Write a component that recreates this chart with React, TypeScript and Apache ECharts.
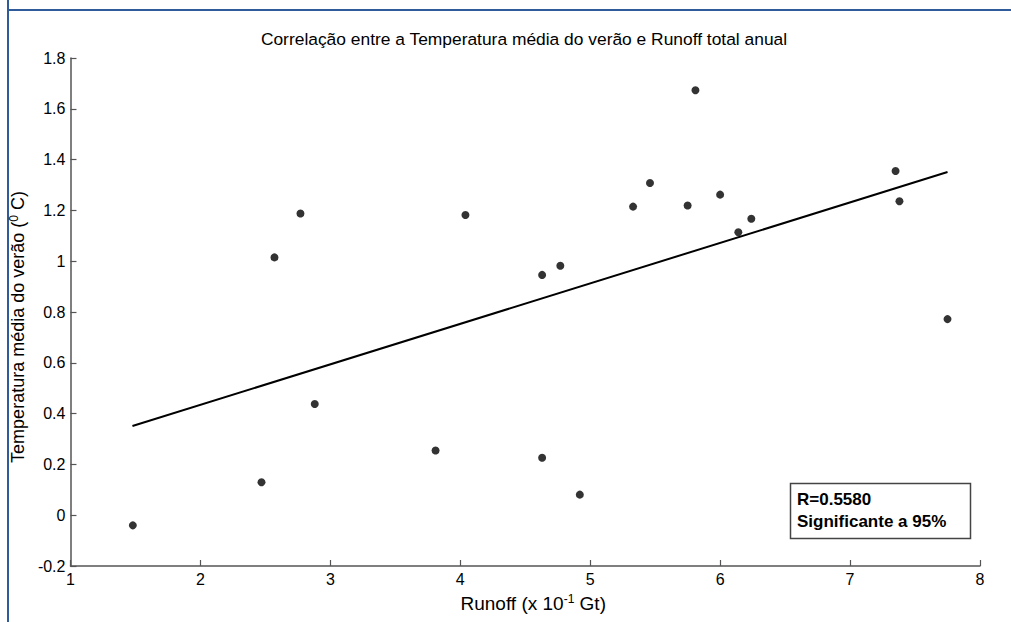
import React, { useEffect, useRef } from "react";
import * as echarts from "echarts";

const runoff = [1.48, 2.47, 2.57, 2.77, 2.88, 3.81, 4.04, 4.63, 4.63, 4.77, 4.92, 5.33, 5.46, 5.75, 5.81, 6.0, 6.14, 6.24, 7.35, 7.38, 7.75];
const temperature = [-0.04, 0.13, 1.015, 1.188, 0.438, 0.255, 1.182, 0.946, 0.226, 0.982, 0.081, 1.215, 1.308, 1.219, 1.673, 1.262, 1.114, 1.167, 1.355, 1.236, 0.772];
const fitX = [1.477, 7.75];
const fitY = [0.351, 1.351];
const xTicks = [1, 2, 3, 4, 5, 6, 7, 8];
const yTicks = [-0.2, 0, 0.2, 0.4, 0.6, 0.8, 1, 1.2, 1.4, 1.6, 1.8];
const titleText = "Correlação entre a Temperatura média do verão e Runoff total anual";
const statLines = ["R=0.5580", "Significante a 95%"];

export default function App() {
  const ref = useRef<HTMLDivElement>(null);
  useEffect(() => {
    if (!ref.current) return;
    const chart = echarts.init(ref.current, null, { renderer: "svg" });
    const axisColor = "#555";
    const font = "Arial, 'Liberation Sans', Helvetica, sans-serif";
    chart.setOption({
      animation: false,
      backgroundColor: "#fff",
      title: {
        text: titleText,
        left: 519,
        top: 25,
        textAlign: "center",
        textStyle: { fontFamily: font, fontSize: 17.4, fontWeight: "normal", color: "#000" },
      },
      grid: { left: 70, right: 31, top: 58, bottom: 56, containLabel: false },
      xAxis: {
        type: "value",
        min: xTicks[0],
        max: xTicks[xTicks.length - 1],
        interval: 1,
        splitLine: { show: false },
        axisLine: { onZero: false, lineStyle: { color: axisColor, width: 1.5 } },
        axisTick: { inside: true, length: 6, lineStyle: { color: axisColor, width: 1.2 } },
        axisLabel: { color: "#000", fontFamily: font, fontSize: 16, margin: 5 },
        name: "Runoff (x 10{sup|-1} Gt)",
        nameLocation: "middle",
        nameGap: 27,
        nameTextStyle: {
          fontFamily: font,
          fontSize: 19,
          color: "#000",
          padding: [0, 0, 0, 16],
          rich: { sup: { fontFamily: font, fontSize: 12, color: "#000", verticalAlign: "top", padding: [0, 0, 9, 0] } },
        },
      },
      yAxis: {
        type: "value",
        min: yTicks[0],
        max: yTicks[yTicks.length - 1],
        interval: 0.2,
        splitLine: { show: false },
        axisLine: { show: true, onZero: false, lineStyle: { color: axisColor, width: 1.5 } },
        axisTick: { show: true, inside: true, length: 6, lineStyle: { color: axisColor, width: 1.2 } },
        axisLabel: {
          color: "#000",
          fontFamily: font,
          fontSize: 16,
          margin: 5,
          formatter: (v: number) => String(+v.toFixed(1)),
        },
        name: "Temperatura média do verão ({sup|0} C)",
        nameLocation: "middle",
        nameGap: 40,
        nameTextStyle: {
          fontFamily: font,
          fontSize: 18,
          color: "#000",
          padding: [0, 30, 0, 0],
          rich: { sup: { fontFamily: font, fontSize: 12, color: "#000", verticalAlign: "top", padding: [0, 0, 8, 0] } },
        },
      },
      series: [
        {
          type: "line",
          data: fitX.map((x, i) => [x, fitY[i]]),
          showSymbol: false,
          symbol: "none",
          lineStyle: { color: "#000", width: 2 },
          z: 2,
        },
        {
          type: "scatter",
          data: runoff.map((x, i) => [x, temperature[i]]),
          symbol: "circle",
          symbolSize: 8,
          itemStyle: { color: "#000" },
          z: 3,
        },
      ],
      graphic: [
        { type: "line", shape: { x1: 8, y1: 0, x2: 8, y2: 622 }, style: { stroke: "#2f5b9a", lineWidth: 2 } },
        { type: "line", shape: { x1: 8, y1: 10, x2: 1011, y2: 10 }, style: { stroke: "#2f5b9a", lineWidth: 2 } },
        { type: "rect", shape: { x: 790.5, y: 483.5, width: 180, height: 55 }, style: { fill: "#fff", stroke: "#444", lineWidth: 1.5 } },
        {
          type: "text",
          x: 797,
          y: 499,
          style: { text: statLines[0], fontFamily: font, fontSize: 17, fontWeight: "bold", fill: "#000", verticalAlign: "middle" },
        },
        {
          type: "text",
          x: 797,
          y: 521,
          style: { text: statLines[1], fontFamily: font, fontSize: 17, fontWeight: "bold", fill: "#000", verticalAlign: "middle" },
        },
      ],
    });
    return () => chart.dispose();
  }, []);
  return <div ref={ref} style={{ position: "absolute", left: 0, top: 0, width: 1011, height: 622 }} />;
}
